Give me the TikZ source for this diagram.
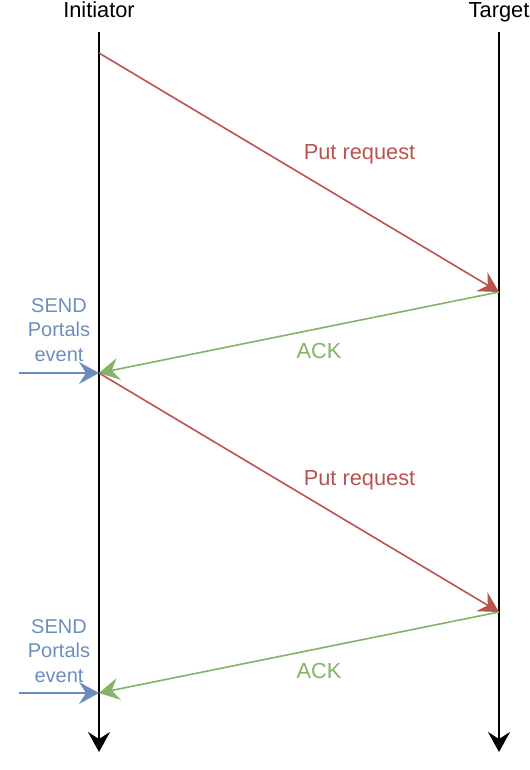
\documentclass[tikz,border=0pt]{standalone}
\usepackage{fontspec}
\setmainfont{Liberation Sans}
\usetikzlibrary{arrows.meta}
\definecolor{cred}{HTML}{B85450}
\definecolor{cgreen}{HTML}{82B366}
\definecolor{cblue}{HTML}{6C8EBF}
\tikzset{
  tip/.tip={Stealth[length=20bp,width=22bp,inset=7bp]},
  lifeline/.style={line width=2bp,-tip},
  msg/.style={line width=1.6bp,-tip},
  lbl/.style={inner sep=0pt,anchor=base,font=\fontsize{21.8bp}{24.5bp}\selectfont},
  evlbl/.style={lbl,text=cblue,align=center,font=\fontsize{20bp}{24.5bp}\selectfont},
}
\begin{document}
\begin{tikzpicture}[x=1bp,y=-1bp]
\useasboundingbox (0,0) rectangle (530,770);
% lifelines
\coordinate (itop) at (99,32);
\coordinate (ibot) at (99,752);
\coordinate (ttop) at (499,32);
\coordinate (tbot) at (499,752);
\node[lbl] (ilbl) at (99,18) {Initiator};
\node[lbl] (tlbl) at (499,18) {Target};
\draw[lifeline] (itop) -- (ibot);
\draw[lifeline] (ttop) -- (tbot);
% message points
\coordinate (i1) at (99,53);
\coordinate (t1) at (499,292);
\coordinate (i2) at (99,373);
\coordinate (t2) at (499,612);
\coordinate (i3) at (99,693);
\coordinate (s1) at (19,373);
\coordinate (s2) at (19,693);
% messages
\draw[msg,cred] (i1) -- (t1);
\draw[msg,cgreen] (t1) -- (i2);
\draw[msg,cred] (i2) -- (t2);
\draw[msg,cgreen] (t2) -- (i3);
\draw[msg,cblue] (s1) -- (i2);
\draw[msg,cblue] (s2) -- (i3);
% labels
\node[lbl,text=cred] (p1) at (359.5,159) {Put request};
\node[lbl,text=cred] (p2) at (359.5,485) {Put request};
\node[lbl,text=cgreen] (a1) at (319,358) {ACK};
\node[lbl,text=cgreen] (a2) at (319,678) {ACK};
\node[evlbl] (e1) at (59,361) {SEND\\Portals\\event};
\node[evlbl] (e2) at (59,682) {SEND\\Portals\\event};
\end{tikzpicture}
\end{document}
